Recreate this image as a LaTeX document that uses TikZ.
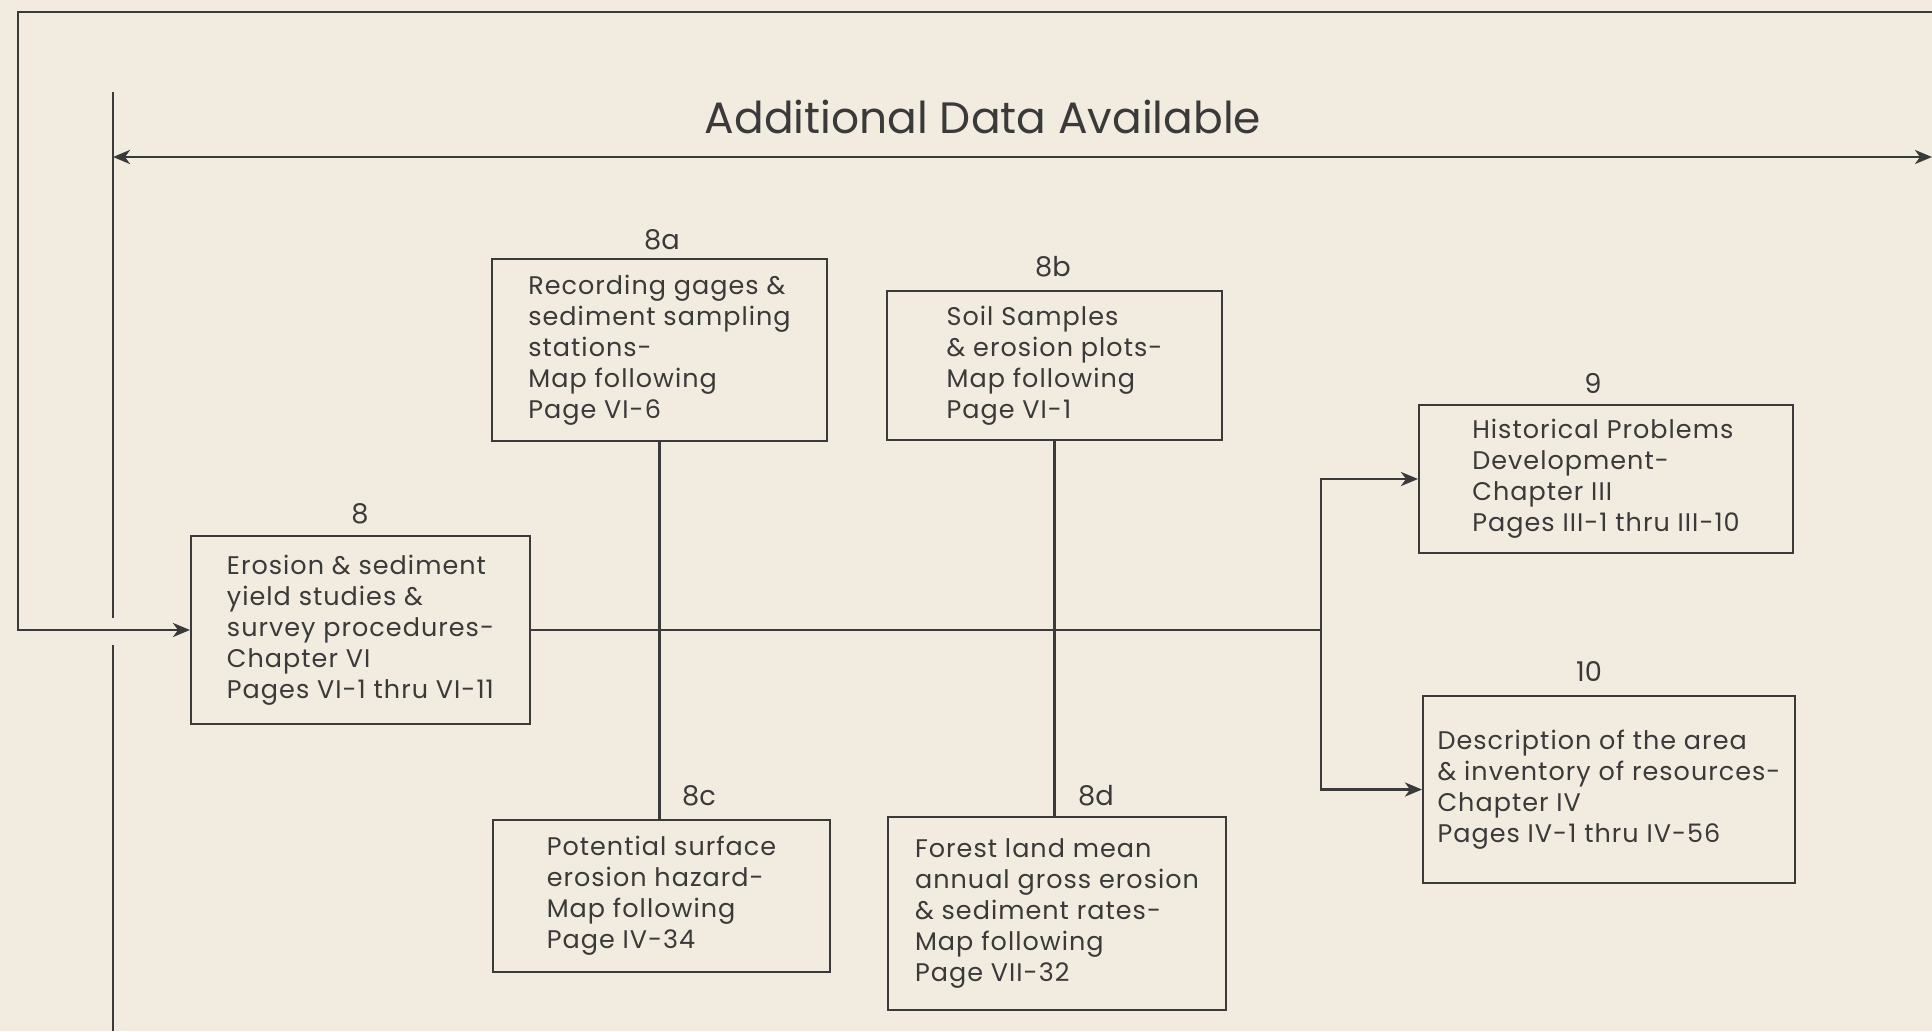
\documentclass[tikz,border=0pt]{standalone}
\usepackage{fontspec}
\setmainfont{Poppins}
\newfontfamily\boxfont[LetterSpace=4]{Poppins}
\usetikzlibrary{arrows.meta}
\definecolor{paper}{HTML}{F2EBDF}
\definecolor{ink}{HTML}{3A3A3A}
\tikzset{
    box/.style={draw=ink, line width=1.2pt, text=ink, align=left, inner sep=0pt,
        font=\boxfont\fontsize{14.5}{17.6}\selectfont},
    num/.style={text=ink, font=\fontsize{15.5}{17}\selectfont},
    wire/.style={draw=ink, line width=1.6pt},
    arr/.style={wire, -{Stealth[length=0.34cm, width=0.28cm, inset=0.1cm]}},
}
\begin{document}
\begin{tikzpicture}[x=0.02cm, y=-0.02cm]
                \fill[paper] (0,0) rectangle (1932,1031);
                \useasboundingbox (0,0) rectangle (1932,1031);
                \node[text=ink, font=\fontsize{25}{28}\selectfont] (title) at (983,117) {Additional Data Available};
                \node[box, minimum width=6.78cm, minimum height=3.76cm] (b8) at (360.5,630)
                    {Erosion \& sediment\\yield studies \&\\survey procedures-\\Chapter VI\\Pages VI-1 thru VI-11};
                \node[box, minimum width=6.7cm, minimum height=3.64cm] (b8a) at (659.5,350)
                    {Recording gages \&\\sediment sampling\\stations-\\Map following\\Page VI-6};
                \node[box, minimum width=6.7cm, minimum height=2.98cm] (b8b) at (1054.5,365.5)
                    {Soil Samples\\\& erosion plots-\\Map following\\Page VI-1};
                \node[box, minimum width=6.74cm, minimum height=3.04cm] (b8c) at (661.5,896)
                    {Potential surface\\erosion hazard-\\Map following\\Page IV-34};
                \node[box, minimum width=6.76cm, minimum height=3.86cm] (b8d) at (1057,913.5)
                    {Forest land mean\\annual gross erosion\\\& sediment rates-\\Map following\\Page VII-32};
                \node[box, minimum width=7.48cm, minimum height=2.96cm] (b9) at (1606,479)
                    {Historical Problems\\Development-\\Chapter III\\Pages III-1 thru III-10};
                \node[box, minimum width=7.44cm, minimum height=3.74cm] (b10) at (1609,789.5)
                    {Description of the area\\\& inventory of resources-\\Chapter IV\\Pages IV-1 thru IV-56};
                \foreach \n/\x/\y in {8/360/514, 8a/662/240, 8b/1053/267, 8c/699/796, 8d/1096/796, 9/1593/383, 10/1589/671}{
                    \node[num] (n\n) at (\x,\y) {\n};
                }
                \coordinate (loopR) at (1932,12);
                \coordinate (loopL) at (18,12);
                \coordinate (barT) at (113,92);
                \coordinate (barB) at (113,1031);
                \coordinate (avL) at (113,157);
                \coordinate (avR) at (1932,157);
                \coordinate (jn) at (1321,630);
                \draw[arr] (loopR) -- (loopL) |- (b8.west);
                \draw[wire] (barT) -- (barT |- 0,618);
                \draw[wire] (barB |- 0,645) -- (barB);
                \draw[wire, {Stealth[length=0.34cm, width=0.28cm, inset=0.1cm]}-{Stealth[length=0.34cm, width=0.28cm, inset=0.1cm]}] (avL) -- (avR);
                \draw[wire] (b8.east) -- (jn);
                \draw[arr] (jn) |- (b9.west);
                \draw[arr] (jn) |- (b10.west);
                \draw[wire] (b8a.south) -- (b8a.south |- b8c.north);
                \draw[wire] (b8b.south) -- (b8b.south |- b8d.north);
            \end{tikzpicture}
\end{document}
